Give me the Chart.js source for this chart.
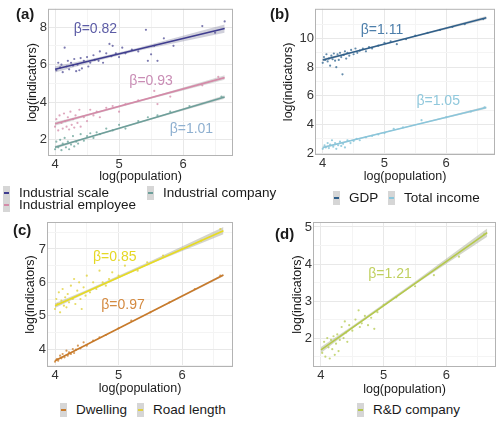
<!DOCTYPE html>
<html>
<head>
<meta charset="utf-8">
<script src="https://cdn.jsdelivr.net/npm/chart.js@4/dist/chart.umd.min.js"></script>
<style>
  body { margin: 0; background: #fff; font-family: "Liberation Sans", Arial, sans-serif; color: #1a1a1a; }
  #wrap { position: relative; width: 500px; height: 423px; overflow: hidden; }
  .panel { position: absolute; }
  .tag { position: absolute; font-weight: bold; font-size: 15px; line-height: 16px; }
  .leg { position: absolute; font-size: 13.5px; line-height: 14px; white-space: nowrap; }
  .key { display: inline-block; width: 7px; height: 14px; background: #d6d6d6; position: relative; vertical-align: top; margin-right: 9px; }
  .key i { position: absolute; left: 1px; right: 1px; top: 6px; height: 2px; }
</style>
</head>
<body>
<div id="wrap">
  <canvas id="chartA" class="panel" width="245" height="188" style="left:0;top:0"></canvas>
  <canvas id="chartB" class="panel" width="250" height="188" style="left:250px;top:0"></canvas>
  <canvas id="chartC" class="panel" width="245" height="190" style="left:0;top:210px"></canvas>
  <canvas id="chartD" class="panel" width="250" height="191" style="left:250px;top:210px"></canvas>

  <div class="tag" style="left:16px;top:6px">(a)</div>
  <div class="tag" style="left:270px;top:6px">(b)</div>
  <div class="tag" style="left:13px;top:222px">(c)</div>
  <div class="tag" style="left:275px;top:226px">(d)</div>

  <div class="leg" style="left:3px;top:186px"><span class="key"><i style="background:#3f3d8f"></i></span>Industrial scale</div>
  <div class="leg" style="left:147px;top:186px"><span class="key"><i style="background:#6d9f9a"></i></span>Industrial company</div>
  <div class="leg" style="left:3px;top:198px"><span class="key"><i style="background:#d48aa8"></i></span>Industrial employee</div>
  <div class="leg" style="left:333px;top:191px"><span class="key"><i style="background:#2f5f8a"></i></span>GDP</div>
  <div class="leg" style="left:388px;top:191px"><span class="key"><i style="background:#8ac6db"></i></span>Total income</div>
  <div class="leg" style="left:60px;top:403px"><span class="key"><i style="background:#c87a2a"></i></span>Dwelling</div>
  <div class="leg" style="left:137px;top:403px"><span class="key"><i style="background:#e0d040"></i></span>Road length</div>
  <div class="leg" style="left:357px;top:403px"><span class="key"><i style="background:#b5c94a"></i></span>R&amp;D company</div>
</div>

<script>
// ---- datos (log(population), log(indicador)) ----

// (a)
const industrialScale = [[4.02,5.7],[4.05,6.1],[4.08,5.85],[4.1,6.0],[4.12,5.6],[4.15,6.9],[4.18,5.9],[4.2,6.2],
  [4.22,5.75],[4.25,6.1],[4.28,5.95],[4.3,6.3],[4.33,5.65],[4.35,6.0],[4.38,5.7],[4.4,6.35],[4.42,5.8],[4.45,6.2],
  [4.5,6.4],[4.52,5.9],[4.55,6.1],[4.6,6.5],[4.62,6.25],[4.68,6.2],[4.7,6.7],[4.75,6.1],[4.8,6.6],[4.85,7.1],
  [4.88,6.45],[4.9,7.0],[4.95,6.6],[5.0,6.4],[5.05,6.9],[5.1,6.6],[5.2,6.8],[5.3,6.7],[5.42,7.85],[5.45,6.2],
  [5.5,6.55],[5.55,7.0],[5.6,6.2],[5.7,7.4],[5.85,7.0],[6.3,8.05],[6.5,7.7],[6.65,8.3]];
const industrialEmployee = [[4.0,2.7],[4.02,3.1],[4.05,2.5],[4.07,3.3],[4.1,2.9],[4.12,2.6],[4.14,3.4],[4.16,3.0],
  [4.18,2.7],[4.2,3.2],[4.22,2.55],[4.24,3.5],[4.26,2.8],[4.28,3.1],[4.3,2.65],[4.32,3.3],[4.35,2.9],[4.38,3.6],
  [4.4,2.7],[4.45,3.2],[4.5,3.0],[4.55,3.6],[4.6,3.3],[4.65,3.5],[4.7,3.2],[4.8,3.7],[4.9,3.8],[5.0,3.5],
  [5.1,3.9],[5.3,4.1],[5.55,4.6],[5.6,3.9],[5.8,4.3],[6.3,4.9],[6.55,5.35]];
const industrialCompany = [[4.0,1.5],[4.02,1.9],[4.05,1.6],[4.08,2.0],[4.1,1.45],[4.12,1.8],[4.15,2.1],[4.17,1.6],
  [4.2,1.9],[4.22,1.5],[4.25,1.75],[4.28,2.2],[4.3,1.65],[4.33,1.9],[4.36,1.8],[4.4,2.3],[4.45,1.95],[4.5,2.2],
  [4.55,2.35],[4.6,2.1],[4.65,2.4],[4.7,2.3],[4.8,2.6],[4.9,2.5],[5.0,2.8],[5.1,2.6],[5.3,3.0],[5.45,3.2],
  [5.6,3.3],[5.8,3.5],[6.1,3.8],[6.6,4.3]];
const industrialScaleFit = [[4.0,5.75],[6.65,7.92]];
const industrialScaleHi = [[4.0,5.92],[4.6,6.33],[5.3,6.9],[6.65,8.14]];
const industrialScaleLo = [[4.0,5.58],[4.6,6.15],[5.3,6.74],[6.65,7.7]];
const industrialEmployeeFit = [[4.0,2.85],[6.65,5.31]];
const industrialEmployeeHi = [[4.0,2.95],[4.5,3.36],[5.5,4.28],[6.65,5.43]];
const industrialEmployeeLo = [[4.0,2.75],[4.5,3.26],[5.5,4.18],[6.65,5.19]];
const industrialCompanyFit = [[4.0,1.6],[6.65,4.28]];
const industrialCompanyHi = [[4.0,1.68],[4.5,2.14],[5.5,3.15],[6.65,4.37]];
const industrialCompanyLo = [[4.0,1.52],[4.5,2.06],[5.5,3.07],[6.65,4.19]];

// (b)
const gdp = [[4.0,8.3],[4.02,8.7],[4.04,8.5],[4.06,8.9],[4.08,8.4],[4.1,8.6],[4.12,8.1],[4.14,8.8],[4.16,8.55],
  [4.18,8.95],[4.2,8.45],[4.22,8.0],[4.24,8.9],[4.26,8.5],[4.28,9.0],[4.3,8.7],[4.32,7.5],[4.34,8.85],[4.36,9.1],
  [4.38,8.6],[4.4,9.0],[4.43,8.8],[4.46,9.2],[4.5,8.9],[4.53,9.3],[4.56,9.0],[4.6,9.15],[4.65,9.3],[4.7,9.1],
  [4.75,9.4],[4.8,9.3],[4.9,9.5],[5.0,9.7],[5.1,9.8],[5.2,9.6],[5.35,9.95],[5.5,10.2],[5.7,10.4],[5.9,10.6],
  [6.1,10.8],[6.3,11.0],[6.6,11.35]];
const totalIncome = [[4.0,2.3],[4.03,2.55],[4.05,2.4],[4.08,2.7],[4.1,2.35],[4.12,2.6],[4.15,2.9],[4.17,2.45],
  [4.2,2.7],[4.22,2.3],[4.25,2.55],[4.28,2.8],[4.3,2.5],[4.33,2.65],[4.36,2.4],[4.4,2.9],[4.45,2.7],[4.5,2.85],
  [4.55,3.0],[4.6,2.9],[4.7,3.1],[4.8,3.2],[4.9,3.3],[5.0,3.4],[5.15,3.7],[5.3,3.8],[5.6,4.3],[6.0,4.5],
  [6.4,4.9],[6.62,5.2]];
const gdpFit = [[4.0,8.5],[6.65,11.44]];
const gdpHi = [[4.0,8.6],[4.5,9.1],[5.5,10.2],[6.65,11.56]];
const gdpLo = [[4.0,8.4],[4.5,9.01],[5.5,10.11],[6.65,11.32]];
const totalIncomeFit = [[4.0,2.4],[6.65,5.18]];
const totalIncomeHi = [[4.0,2.47],[4.5,2.97],[5.5,4.02],[6.65,5.27]];
const totalIncomeLo = [[4.0,2.33],[4.5,2.89],[5.5,3.94],[6.65,5.09]];

// (c)
const roadLength = [[4.0,5.2],[4.02,5.5],[4.04,5.35],[4.06,5.7],[4.08,5.1],[4.1,5.45],[4.12,5.8],[4.14,5.3],
  [4.16,5.55],[4.18,5.25],[4.2,5.65],[4.22,5.4],[4.25,5.9],[4.28,5.5],[4.3,6.1],[4.32,5.35],[4.35,5.75],[4.38,6.0],
  [4.4,5.5],[4.42,5.2],[4.45,5.85],[4.48,5.6],[4.5,6.2],[4.55,5.7],[4.6,6.0],[4.65,5.8],[4.7,6.35],[4.75,6.0],
  [4.8,5.9],[4.85,6.1],[4.9,6.3],[5.0,6.2],[5.1,6.5],[5.3,6.35],[5.45,6.6],[5.7,6.8],[6.0,7.0],[6.3,7.25],[6.6,7.6]];
const dwelling = [[4.0,3.62],[4.03,3.7],[4.05,3.65],[4.08,3.8],[4.1,3.72],[4.12,3.85],[4.15,3.75],[4.18,3.95],
  [4.2,3.8],[4.22,3.9],[4.25,3.85],[4.28,4.0],[4.3,3.88],[4.33,3.98],[4.36,4.1],[4.4,4.02],[4.45,4.2],[4.5,4.1],
  [4.6,4.25],[4.7,4.35],[4.8,4.42],[5.0,4.62],[5.2,4.85],[5.5,5.1],[5.8,5.4],[6.2,5.8],[6.6,6.2]];
const roadLengthFit = [[4.0,5.3],[6.65,7.55]];
const roadLengthHi = [[4.0,5.37],[4.5,5.77],[5.5,6.63],[6.65,7.66]];
const roadLengthLo = [[4.0,5.23],[4.5,5.69],[5.5,6.55],[6.65,7.44]];
const dwellingFit = [[4.0,3.65],[6.65,6.22]];
const dwellingHi = [[4.0,3.68],[4.5,4.15],[5.5,5.11],[6.65,6.26]];
const dwellingLo = [[4.0,3.62],[4.5,4.12],[5.5,5.08],[6.65,6.18]];

// (d)
const rdCompany = [[4.02,1.6],[4.05,1.9],[4.07,1.5],[4.1,2.0],[4.12,1.75],[4.14,1.45],[4.16,1.95],[4.18,1.7],
  [4.2,2.05],[4.22,1.55],[4.24,1.85],[4.26,2.1],[4.28,1.65],[4.3,1.95],[4.33,2.3],[4.36,2.0],[4.38,2.45],[4.4,2.15],
  [4.42,1.9],[4.45,2.35],[4.5,2.2],[4.55,2.5],[4.6,2.75],[4.62,2.3],[4.65,2.4],[4.7,2.6],[4.75,2.35],[4.8,2.55],
  [4.85,2.25],[4.9,2.7],[5.0,2.9],[5.2,3.1],[5.5,3.4],[5.8,3.7],[6.2,4.2],[6.6,4.8]];
const rdCompanyFit = [[4.0,1.68],[6.65,4.85]];
const rdCompanyHi = [[4.0,1.76],[4.5,2.33],[5.5,3.53],[6.65,4.96]];
const rdCompanyLo = [[4.0,1.6],[4.5,2.25],[5.5,3.45],[6.65,4.74]];

// etiquetas beta: [texto, x, y]
const betaA = [['β=0.82',4.63,7.9],['β=0.93',5.5,5.1],['β=1.01',6.13,2.56]];
const betaB = [['β=1.11',4.96,10.6],['β=1.05',5.87,5.6]];
const betaC = [['β=0.85',4.94,6.76],['β=0.97',5.07,5.32]];
const betaD = [['β=1.21',5.1,3.73]];

// ticks
const xTicks = [4, 5, 6];
const xGrid = [4, 4.5, 5, 5.5, 6, 6.5];
const yTicksA = [2, 4, 6, 8];
const yGridA = [2, 3, 4, 5, 6, 7, 8];
const yTicksB = [2, 4, 6, 8, 10];
const yGridB = [2, 3, 4, 5, 6, 7, 8, 9, 10, 11];
const yTicksC = [4, 5, 6, 7];
const yGridC = [3.5, 4, 4.5, 5, 5.5, 6, 6.5, 7, 7.5];
const yTicksD = [2, 3, 4, 5];
const yGridD = [1.5, 2, 2.5, 3, 3.5, 4, 4.5, 5];

const FONT = '"Liberation Sans", Arial, sans-serif';
Chart.defaults.font.family = FONT;

const toXY = arr => arr.map(([x, y]) => ({ x, y }));

// banda de confianza + puntos + recta de ajuste
function serie(pts, fit, hi, lo, lineColor, pointColor, bandColor) {
  return [
    { data: toXY(hi), showLine: true, borderWidth: 0, pointRadius: 0, fill: false, order: 3 },
    { data: toXY(lo), showLine: true, borderWidth: 0, pointRadius: 0, fill: '-1', backgroundColor: bandColor, order: 3 },
    { data: toXY(pts), pointRadius: 1.1, pointBorderWidth: 0, pointBackgroundColor: pointColor, order: 2 },
    { data: toXY(fit), showLine: true, borderColor: lineColor, borderWidth: 1.6, pointRadius: 0, order: 1 }
  ];
}

const extras = {
  id: 'extras',
  afterDraw(chart) {
    const { ctx, chartArea: a, scales: { x, y } } = chart;
    ctx.save();
    ctx.strokeStyle = '#b3b3b3';
    ctx.lineWidth = 1;
    ctx.strokeRect(a.left + 0.5, a.top + 0.5, a.width - 1, a.height - 1);
    ctx.font = '14px ' + FONT;
    ctx.textAlign = 'center';
    ctx.textBaseline = 'middle';
    chart.options.plugins.extras.notes.forEach(([t, vx, vy], i) => {
      ctx.fillStyle = chart.options.plugins.extras.colors[i];
      ctx.fillText(t, x.getPixelForValue(vx), y.getPixelForValue(vy));
    });
    ctx.restore();
  }
};

function eje(min, max, grid, labels, titulo, fitFn) {
  return {
    type: 'linear', min, max,
    afterBuildTicks: s => { s.ticks = grid.map(v => ({ value: v })); },
    afterFit: fitFn,
    ticks: {
      autoSkip: false, maxRotation: 0, padding: 1, color: '#333',
      font: { size: 13 },
      callback: v => labels.includes(v) ? String(v) : ''
    },
    grid: {
      drawTicks: false,
      color: c => (c.tick && labels.includes(c.tick.value)) ? '#e8e8e8' : '#f4f4f4'
    },
    border: { display: false },
    title: { display: true, text: titulo, color: '#1a1a1a', font: { size: 12.5 } }
  };
}

function panel(id, datasets, g, notes, colors) {
  new Chart(document.getElementById(id), {
    type: 'scatter',
    data: { datasets },
    options: {
      responsive: false,
      animation: false,
      layout: { padding: g.pad },
      plugins: { legend: { display: false }, tooltip: { enabled: false }, extras: { notes, colors } },
      scales: {
        x: eje(g.x[0], g.x[1], xGrid, xTicks, 'log(population)', s => { s.height = g.xh; }),
        y: eje(g.y[0], g.y[1], g.yGrid, g.yTicks, 'log(indicators)', s => { s.width = g.yw; })
      }
    },
    plugins: [extras]
  });
}

panel('chartA', [
  ...serie(industrialScale, industrialScaleFit, industrialScaleHi, industrialScaleLo, '#3f3d8f', 'rgba(80,78,150,0.75)', 'rgba(150,150,175,0.45)'),
  ...serie(industrialEmployee, industrialEmployeeFit, industrialEmployeeHi, industrialEmployeeLo, '#d48aa8', 'rgba(212,138,168,0.75)', 'rgba(160,160,160,0.4)'),
  ...serie(industrialCompany, industrialCompanyFit, industrialCompanyHi, industrialCompanyLo, '#6d9f9a', 'rgba(100,160,150,0.75)', 'rgba(160,160,160,0.4)')
], { pad: { left: 21, top: 2, right: 12, bottom: 0 }, yw: 27, xh: 32, x: [3.89, 6.78], y: [1.14, 8.97], yGrid: yGridA, yTicks: yTicksA },
  betaA, ['#5b5ba5', '#c98db5', '#8fb0d0']);

panel('chartB', [
  ...serie(gdp, gdpFit, gdpHi, gdpLo, '#2f5f8a', 'rgba(60,110,150,0.8)', 'rgba(160,160,160,0.4)'),
  ...serie(totalIncome, totalIncomeFit, totalIncomeHi, totalIncomeLo, '#8ac6db', 'rgba(130,195,215,0.8)', 'rgba(160,160,160,0.4)')
], { pad: { left: 27, top: 2, right: 5, bottom: 0 }, yw: 38, xh: 33, x: [3.875, 6.79], y: [1.87, 12.07], yGrid: yGridB, yTicks: yTicksB },
  betaB, ['#4c7eaa', '#90c8dc']);

panel('chartC', [
  ...serie(roadLength, roadLengthFit, roadLengthHi, roadLengthLo, '#e8dc20', 'rgba(225,210,60,0.8)', 'rgba(170,170,150,0.5)'),
  ...serie(dwelling, dwellingFit, dwellingHi, dwellingLo, '#c87a2a', 'rgba(205,130,50,0.8)', 'rgba(160,160,160,0.4)')
], { pad: { left: 19, top: 12, right: 12, bottom: 0 }, yw: 28, xh: 33, x: [3.874, 6.8], y: [3.46, 7.81], yGrid: yGridC, yTicks: yTicksC },
  betaC, ['#e5d825', '#d48a40']);

panel('chartD', [
  ...serie(rdCompany, rdCompanyFit, rdCompanyHi, rdCompanyLo, '#b5c94a', 'rgba(185,205,90,0.8)', 'rgba(170,175,150,0.5)')
], { pad: { left: 36, top: 12, right: 3, bottom: 0 }, yw: 27, xh: 34, x: [3.873, 6.79], y: [1.22, 5.135], yGrid: yGridD, yTicks: yTicksD },
  betaD, ['#c0d060']);
</script>
</body>
</html>
